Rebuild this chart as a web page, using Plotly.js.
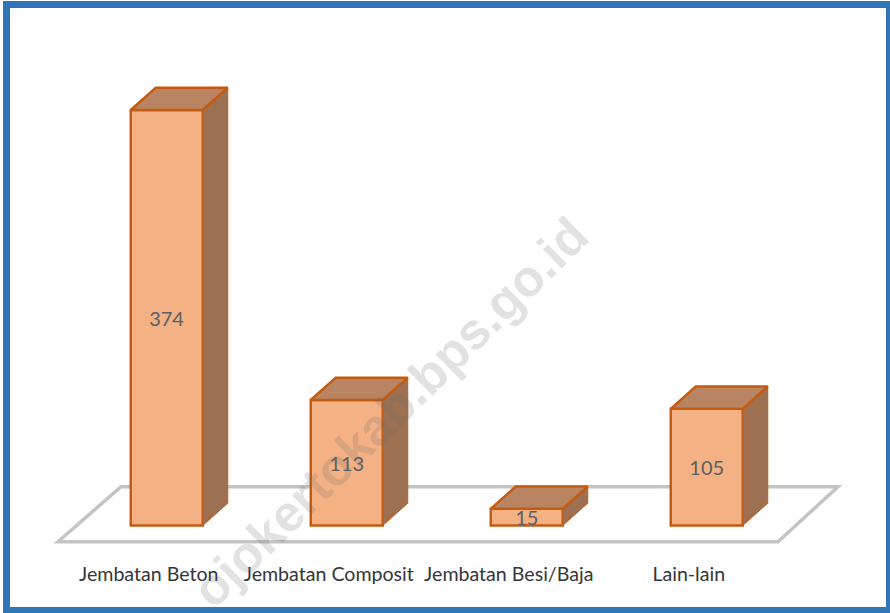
<!DOCTYPE html>
<html><head><meta charset="utf-8">
<script src="https://cdn.plot.ly/plotly-3.0.1.min.js"></script>
<style>html,body{margin:0;padding:0;background:#fff;overflow:hidden}#c{width:890px;height:613px}</style>
</head><body><div id="c"></div>
<script>
const categories = ["Jembatan Beton", "Jembatan Composit", "Jembatan Besi/Baja", "Lain-lain"];
const values = [374, 113, 15, 105];
const positions = [0, 1, 2, 3];

const W = 890, H = 613, B = 53;
const X0 = 166.75, XS = 180, Y0 = 525.5, YS = 1.111;
const px = p => (p - X0) / XS;
const py = p => (Y0 - p) / YS;
const half = 0.2, dx = 25 / XS, dy = 22.3 / YS;

const topX = [], topY = [], sideX = [], sideY = [];
positions.forEach((x, i) => {
  const v = values[i], l = x - half, r = x + half;
  topX.push(l, l + dx, r + dx, r, l, null);
  topY.push(v, v + dy, v + dy, v, v, null);
  sideX.push(r, r + dx, r + dx, r, r, null);
  sideY.push(v, v + dy, dy, 0, v, null);
});

const edge = "#c55a11";
const data = [
  {type: "scatter", mode: "lines", x: sideX, y: sideY, fill: "toself", fillcolor: "#9c7050",
   line: {color: edge, width: 1}, hoverinfo: "skip", showlegend: false, cliponaxis: false},
  {type: "bar", x: positions, y: values, width: 0.4, text: values.map(String),
   textposition: "inside", insidetextanchor: "middle", textangle: 0, constraintext: "none",
   textfont: {family: "Lato, Carlito, sans-serif", size: 20, color: "#5a5f66"},
   marker: {color: "#f4b183", line: {color: edge, width: 2.5}}, hoverinfo: "skip", showlegend: false, cliponaxis: false},
  {type: "scatter", mode: "lines", x: topX, y: topY, fill: "toself", fillcolor: "#b98461",
   line: {color: edge, width: 2.5}, hoverinfo: "skip", showlegend: false, cliponaxis: false}
];

const pathOf = pts => pts.map((p, i) => (i ? "L" : "M") + px(p[0]) + "," + py(p[1])).join(" ") + " Z";
const layout = {
  width: W, height: H, margin: {l: 0, r: 0, t: 0, b: B}, paper_bgcolor: "#fff", plot_bgcolor: "rgba(0,0,0,0)",
  showlegend: false,
  xaxis: {range: [px(0), px(W)], tickmode: "array", tickvals: positions.map(p => p - 0.1), ticktext: categories,
    showgrid: false, zeroline: false, showline: false, ticks: "", fixedrange: true,
    tickfont: {family: "Lato, Carlito, sans-serif", size: 19.6, color: "#33363a"}},
  yaxis: {range: [py(560), py(0)], showgrid: false, zeroline: false, showline: false, showticklabels: false, ticks: "", fixedrange: true},
  shapes: [
    {type: "path", xref: "x", yref: "y", layer: "below", line: {color: "#c4c4c4", width: 3.5}, fillcolor: "rgba(0,0,0,0)",
     path: pathOf([[58, 541.7], [121, 486.7], [838, 486.7], [778, 541.7]])},
    {type: "rect", xref: "paper", yref: "paper", layer: "above", line: {color: "#2e75b6", width: 7}, fillcolor: "rgba(0,0,0,0)",
     x0: 6.5 / W, x1: 889.5 / W, y0: (560 - 610.5) / 560, y1: (560 - 4.5) / 560}
  ],
  annotations: [
    {text: "ojokertokab.bps.go.id", xref: "x", yref: "y", x: px(390), y: py(412), showarrow: false, textangle: -44.5,
     xanchor: "center", yanchor: "middle",
     font: {family: "Liberation Sans, Arial, sans-serif", size: 51, color: "rgba(110,110,110,0.2)", weight: 700}}
  ]
};
Plotly.newPlot("c", data, layout, {displayModeBar: false, staticPlot: true});
</script></body></html>
